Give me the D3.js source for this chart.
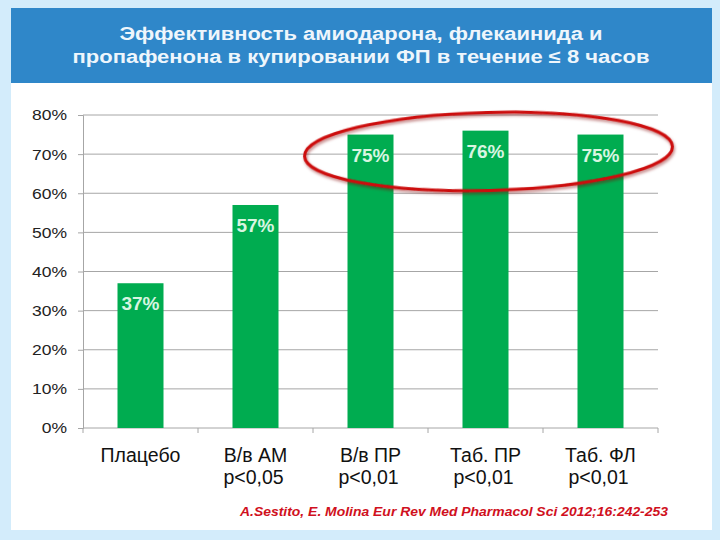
<!DOCTYPE html>
<html><head><meta charset="utf-8">
<script src="https://cdn.jsdelivr.net/npm/d3@7"></script>
<style>body{margin:0;background:#d3ecfb;}svg{display:block;}</style>
</head><body>
<svg id="c" width="720" height="540"></svg>
<script>
const categories = ["Плацебо","В/в АМ","В/в ПР","Таб. ПР","Таб. ФЛ"];
const pValues = ["","p<0,05","p<0,01","p<0,01","p<0,01"];
const values = [37,57,75,76,75];
const yTicks = [0,10,20,30,40,50,60,70,80];
const titleLines = ["Эффективность амиодарона, флекаинида и","пропафенона в купировании ФП в течение ≤ 8 часов"];
const citation = "A.Sestito, E. Molina Eur Rev Med Pharmacol Sci 2012;16:242-253";

(function(){
const svg = d3.select("#c");
const font = "'Liberation Sans', Arial, sans-serif";

svg.append("rect").attr("x",0).attr("y",0).attr("width",720).attr("height",540).attr("fill","#d3ecfb");
svg.append("rect").attr("x",11).attr("y",83).attr("width",701).attr("height",447).attr("fill","#ffffff");
svg.append("rect").attr("x",11).attr("y",8).attr("width",701).attr("height",75).attr("fill","#2f87c9");

const titleW = [483, 577];
svg.selectAll("text.title").data(titleLines).join("text")
  .attr("class","title")
  .attr("x",361).attr("y",(d,i)=>40+i*23)
  .attr("text-anchor","middle")
  .attr("textLength",(d,i)=>titleW[i]).attr("lengthAdjust","spacingAndGlyphs")
  .attr("font-family",font).attr("font-weight","bold").attr("font-size",18)
  .attr("fill","#eef6fc").text(d=>d);

const pLeft=83, pRight=658, pTop=115, pBottom=428;
const x = d3.scaleBand().domain(categories).range([pLeft,pRight]).paddingInner(0).paddingOuter(0);
const y = d3.scaleLinear().domain([0,80]).range([pBottom,pTop]);

svg.append("g").selectAll("line").data(yTicks.filter(t=>t>0)).join("line")
  .attr("x1",pLeft).attr("x2",pRight).attr("y1",d=>y(d)).attr("y2",d=>y(d))
  .attr("stroke","#a6a6a6").attr("stroke-width",1);

const yAxis = d3.axisLeft(y).tickValues(yTicks).tickFormat(d=>d+"%").tickSize(5).tickPadding(10);
const gy = svg.append("g").attr("transform",`translate(${pLeft},0)`).call(yAxis);
gy.select(".domain").attr("stroke","#a6a6a6");
gy.selectAll(".tick line").attr("stroke","#a6a6a6");
gy.selectAll(".tick text").attr("font-family",font).attr("font-size",15.5).attr("fill","#222")
  .attr("x",-16/1.13).attr("transform","scale(1.13,1)");

svg.append("line").attr("x1",pLeft).attr("x2",pRight).attr("y1",pBottom).attr("y2",pBottom).attr("stroke","#a6a6a6");
const bounds = categories.map(c=>x(c)).concat([pRight]);
svg.append("g").selectAll("line").data(bounds).join("line")
  .attr("x1",d=>d).attr("x2",d=>d).attr("y1",pBottom).attr("y2",pBottom+5).attr("stroke","#a6a6a6");

const bw = x.bandwidth()*0.4;
svg.append("g").selectAll("rect").data(values).join("rect")
  .attr("x",(d,i)=>x(categories[i])+x.bandwidth()/2-bw/2)
  .attr("width",bw)
  .attr("y",d=>y(d)).attr("height",d=>pBottom-y(d))
  .attr("fill","#00ac50");

svg.append("g").selectAll("text").data(values).join("text")
  .attr("x",(d,i)=>x(categories[i])+x.bandwidth()/2)
  .attr("y",d=>y(d)+27)
  .attr("text-anchor","middle")
  .attr("font-family",font).attr("font-weight","bold").attr("font-size",19)
  .attr("fill","#d8f5e1").text(d=>d+"%");

const cl = svg.append("g");
cl.selectAll("text.cat").data(categories).join("text").attr("class","cat")
  .attr("x",d=>x(d)+x.bandwidth()/2).attr("y",462)
  .attr("text-anchor","middle").attr("font-family",font).attr("font-size",19.5).attr("fill","#111")
  .text(d=>d);
cl.selectAll("text.p").data(pValues).join("text").attr("class","p")
  .attr("x",(d,i)=>x(categories[i])+x.bandwidth()/2-2).attr("y",484)
  .attr("text-anchor","middle").attr("font-family",font).attr("font-size",19.5).attr("fill","#111")
  .text(d=>d);

const cx = (x(categories[2]) + x(categories[4]) + x.bandwidth())/2 + 3;
const cy = y(70.7);
const defs = svg.append("defs");
const f = defs.append("filter").attr("id","sh").attr("x","-10%").attr("y","-30%").attr("width","120%").attr("height","160%");
f.append("feDropShadow").attr("dx",1).attr("dy",2).attr("stdDeviation",1.5).attr("flood-color","#800000").attr("flood-opacity",0.5);
svg.append("ellipse").attr("cx",cx).attr("cy",cy).attr("rx",184).attr("ry",39)
  .attr("transform",`rotate(-1.5 ${cx} ${cy})`)
  .attr("fill","none").attr("stroke","#cc0a0a").attr("stroke-width",3).attr("filter","url(#sh)");

svg.append("text").attr("x",668).attr("y",516).attr("text-anchor","end")
  .attr("textLength",428).attr("lengthAdjust","spacingAndGlyphs")
  .attr("font-family",font).attr("font-weight","bold").attr("font-style","italic").attr("font-size",13.5)
  .attr("fill","#d01020").text(citation);
})();
</script>
</body></html>
